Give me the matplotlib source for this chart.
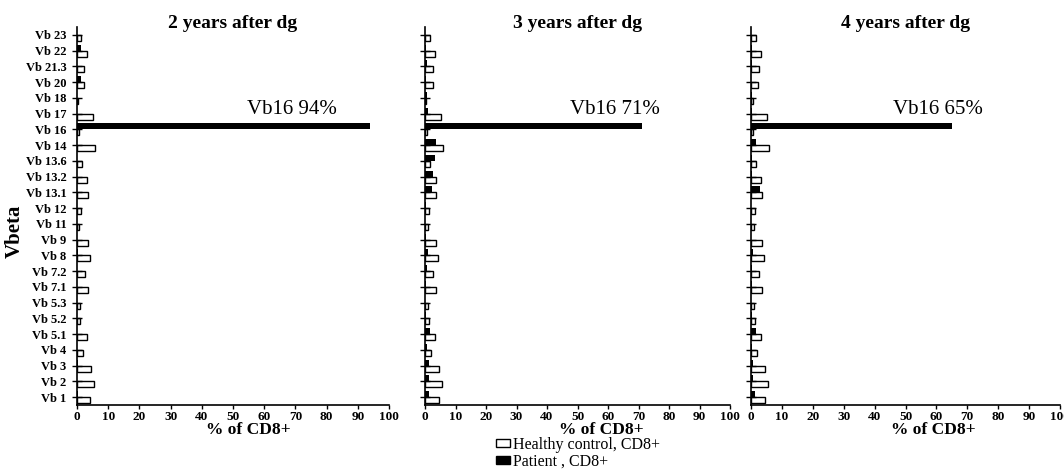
import numpy as np
import matplotlib
matplotlib.use("Agg")
import matplotlib.pyplot as plt
from matplotlib.patches import Patch

plt.rcParams['font.family'] = ['Liberation Serif', 'DejaVu Serif']

## Data (bottom to top)
vbeta = ['Vb 1', 'Vb 2', 'Vb 3', 'Vb 4', 'Vb 5.1', 'Vb 5.2', 'Vb 5.3', 'Vb 7.1',
         'Vb 7.2', 'Vb 8', 'Vb 9', 'Vb 11', 'Vb 12', 'Vb 13.1', 'Vb 13.2',
         'Vb 13.6', 'Vb 14', 'Vb 16', 'Vb 17', 'Vb 18', 'Vb 20', 'Vb 21.3',
         'Vb 22', 'Vb 23']

titles = ['2 years after dg', '3 years after dg', '4 years after dg']

healthy_2y = [4.2, 5.4, 4.4, 1.8, 3.2, 1.1, 0.9, 3.4, 2.5, 4.1, 3.5, 0.8,
              1.3, 3.5, 3.3, 1.6, 5.8, 0.8, 5.0, 0.4, 2.2, 2.3, 3.2, 1.3]
patient_2y = [0.2, 0.1, 0.3, 0.0, 0.1, 0.0, 0.0, 0.1, 0.1, 0.3, 0.0, 0.0,
              0.0, 0.0, 0.0, 0.0, 0.0, 94, 0.1, 0.0, 1.3, 0.0, 1.3, 0.0]

healthy_3y = [4.5, 5.6, 4.7, 2.0, 3.4, 1.3, 1.0, 3.5, 2.5, 4.3, 3.6, 1.0,
              1.4, 3.6, 3.5, 1.7, 5.9, 0.8, 5.1, 0.4, 2.5, 2.6, 3.4, 1.5]
patient_3y = [1.2, 1.2, 1.2, 0.5, 1.6, 0.2, 0.1, 0.4, 0.5, 0.9, 0.2, 0.1,
              0.2, 2.2, 2.5, 3.2, 3.5, 71, 0.9, 0.6, 0.2, 0.5, 0.2, 0.1]

healthy_4y = [4.4, 5.5, 4.5, 2.0, 3.3, 1.2, 1.1, 3.5, 2.6, 4.1, 3.6, 1.0,
              1.4, 3.5, 3.3, 1.6, 5.7, 0.7, 5.1, 0.5, 2.4, 2.5, 3.2, 1.5]
patient_4y = [1.2, 0.8, 0.8, 0.4, 1.5, 0.2, 0.1, 0.4, 0.4, 0.8, 0.1, 0.1,
              0.1, 2.8, 0.3, 0.2, 1.5, 65, 0.3, 0.4, 0.1, 0.2, 0.2, 0.1]

healthy = [healthy_2y, healthy_3y, healthy_4y]
patient = [patient_2y, patient_3y, patient_4y]
highlight = 'Vb 16'

## Layout
fig = plt.figure(figsize=(10.64, 4.75), dpi=100)
W, H = 1064, 475
# left, right, top, bottom in pixels
boxes = [(77, 389, 27, 405), (425, 730, 27, 405), (751, 1060, 27, 405)]
label_x = [0.548, 0.577, 0.589]
note_x = [54.5, 47.5, 46.0]

y = np.arange(len(vbeta))
h = 0.38
k = vbeta.index(highlight)

for i, (l, r, t, b) in enumerate(boxes):
    ax = fig.add_axes([l / W, 1 - b / H, (r - l) / W, (b - t) / H])
    ax.barh(y - h / 2, healthy[i], height=h, facecolor='white',
            edgecolor='black', linewidth=1.0, align='center')
    ax.barh(y + h / 2, patient[i], height=h, color='black', align='center')

    ax.set_xlim(0, 100)
    ax.set_ylim(-0.5, len(vbeta) - 0.5)
    ax.set_xticks(np.arange(0, 101, 10))
    ax.set_yticks(y)
    if i == 0:
        ax.set_yticklabels(vbeta, fontsize=9, fontweight='bold')
        ax.set_ylabel('Vbeta', fontsize=15, fontweight='bold')
        ax.yaxis.set_label_coords(-0.167, 0.46)
    else:
        ax.set_yticklabels([])
    for lab in ax.get_xticklabels():
        lab.set_fontweight('bold')
        lab.set_fontsize(9.5)

    ax.tick_params(axis='y', direction='inout', length=7, width=1, pad=4)
    ax.tick_params(axis='x', direction='out', length=3, width=1, pad=1.5)
    for s in ['top', 'right']:
        ax.spines[s].set_visible(False)
    for s in ['left', 'bottom']:
        ax.spines[s].set_linewidth(1.2)

    ax.set_xlabel('% of CD8+', fontsize=12.5, fontweight='bold')
    ax.xaxis.set_label_coords(label_x[i], -0.045)
    # fixed y so the title may sit on the top of the axis line
    ax.set_title(titles[i], fontsize=14, fontweight='bold', y=1.0, pad=-1)

    ax.text(note_x[i], k + 1.0, f'Vb16 {patient[i][k]:g}%', fontsize=15,
            va='baseline', ha='left')

handles = [Patch(facecolor='white', edgecolor='black', linewidth=1.0),
           Patch(facecolor='black', edgecolor='black')]
fig.legend(handles, ['Healthy control, CD8+', 'Patient , CD8+'],
           loc='upper left', bbox_to_anchor=(496 / W, 1 - 437 / H),
           frameon=False, fontsize=11.5, borderpad=0, borderaxespad=0,
           labelspacing=0.05, handlelength=0.9, handleheight=0.4,
           handletextpad=0.15)

fig.savefig('out.png', dpi=100)
